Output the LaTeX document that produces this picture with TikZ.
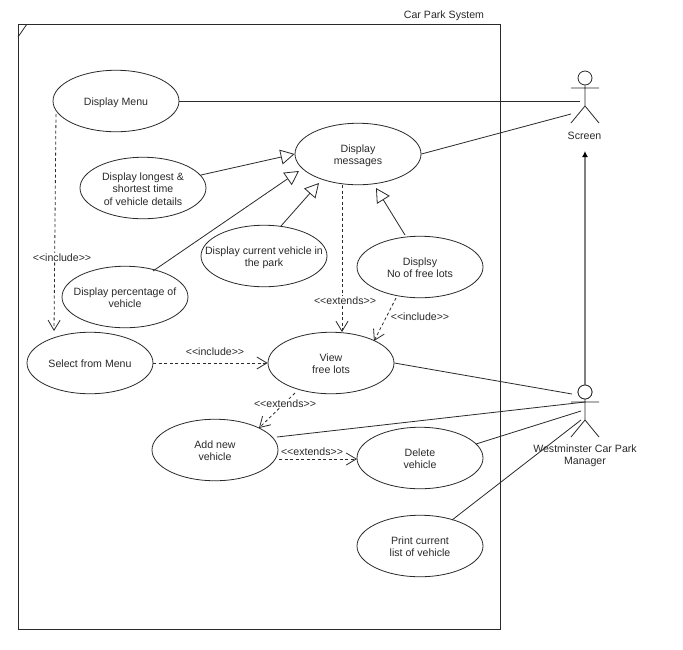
\documentclass[tikz,border=0pt]{standalone}
\usepackage{fontspec}
\setmainfont{Liberation Sans}
\usetikzlibrary{arrows.meta,shapes.geometric}
\definecolor{ink}{HTML}{2A2A2A}
\newcommand{\uctext}[1]{\makebox[0pt]{\raisebox{-5pt}[0pt][0pt]{\begin{tabular}{@{}c@{}}#1\end{tabular}}}}
\tikzset{
  usecase/.style={draw=ink,ellipse,minimum width=126pt,minimum height=61.5pt,inner sep=0pt,fill=white,line width=.8pt},
  lab/.style={inner sep=.6pt,text=ink,align=center},
  lbl/.style={lab,fill=white},
  assoc/.style={draw=ink,line width=.8pt},
  gen/.style={assoc,-{Triangle[open,length=14pt,width=15pt,fill=white]}},
  dep/.style={draw=ink,line width=.8pt,dash pattern=on 3pt off 2.5pt,-{Straight Barb[length=10pt,width=12pt,line width=.8pt]}},
  stick/.style={draw=ink,line width=.8pt},
}
\begin{document}
\begin{tikzpicture}[x=1pt,y=-1pt,every node/.append style={font=\fontsize{10.6}{12.4}\selectfont,text=ink}]
\useasboundingbox (0,0) rectangle (683,649);
\fill[white] (0,0) rectangle (683,649);
% system frame
\draw[draw=ink,line width=.8pt] (18,24) rectangle (500,629);
\draw[draw=ink,line width=.8pt] (18,37) -- (27,24);
\node[lab] (title) at (444,15.5) {Car Park System};
% free ends
\coordinate (sArm) at (580,101);
\coordinate (sHip) at (571,114);
\coordinate (mA) at (572,394);
\coordinate (mB) at (585,402);
\coordinate (mC) at (581,411);
\coordinate (mD) at (581,420);
\coordinate (msgP) at (299,171);
\coordinate (msgC) at (319,183);
\coordinate (msgD) at (376,188);
\coordinate (dmStart) at (56,114);
\coordinate (selEnd) at (54,331);
\coordinate (dlStart) at (396,298);
\coordinate (vEnd) at (374,341);
\coordinate (vStart) at (295,393);
\coordinate (aEnd) at (259,428);
\coordinate (msgStart) at (342,185);
\coordinate (vTop) at (342,332);
\coordinate (pS) at (153,271);
\coordinate (cS) at (281,226);
\coordinate (dS) at (405,235);
\coordinate (lS) at (201,175);
\coordinate (aS) at (277,437);
\coordinate (aR) at (279,459);
\coordinate (dR) at (357,459);
\coordinate (delS) at (476,444);
\coordinate (prS) at (452,520);
\coordinate (mTop) at (585,386);
\coordinate (sBot) at (585,151);
% use cases
\node[usecase] (menu) at (116,101) {\uctext{Display Menu}};
\node[usecase] (msg) at (358,154) {\uctext{Display\\messages}};
\node[usecase] (longest) at (143,188) {\uctext{Display longest \&\\shortest time\\of vehicle details}};
\node[usecase] (current) at (264,256) {\uctext{Display current vehicle in\\the park}};
\node[usecase] (percent) at (125,297) {\uctext{Display percentage of\\vehicle}};
\node[usecase] (free) at (420,267) {\uctext{Displsy\\No of free lots}};
\node[usecase] (select) at (90,363) {\uctext{Select from Menu}};
\node[usecase] (view) at (331,363) {\uctext{View\\free lots}};
\node[usecase] (add) at (215,450) {\uctext{Add new\\vehicle}};
\node[usecase] (del) at (420,458) {\uctext{Delete\\vehicle}};
\node[usecase] (print) at (420,546) {\uctext{Print current\\list of vehicle}};
% actors
\node[circle,draw=ink,line width=.8pt,minimum size=14pt,inner sep=0pt] (sHead) at (585,78) {};
\coordinate (sNeck) at (585,106);
\draw[stick] (sHead.south) -- (sNeck) -- (571,123) (sNeck) -- (599,123) (571,88) -- (599,88);
\node[lab] (sLab) at (584.5,135.5) {Screen};
\node[circle,draw=ink,line width=.8pt,minimum size=14pt,inner sep=0pt] (mHead) at (585,392) {};
\coordinate (mNeck) at (585,420);
% connectors
\draw[draw=black!50,line width=1.5pt,-{Latex[black,length=6pt,width=6pt]}] (mTop) -- (sBot);
\node[circle,draw=ink,fill=white,line width=.8pt,minimum size=14pt,inner sep=0pt] (mHeadTop) at (mHead) {};
\draw[stick] (mHead.south) -- (mNeck) -- (571,437) (mNeck) -- (599,437) (571,402) -- (599,402);
\node[lab] (mLab) at (585,456) {Westminster Car Park\\Manager};
\draw[assoc] (menu.east) -- (sArm);
\draw[assoc] (msg.east) -- (sHip);
\draw[assoc] (view.east) -- (mA);
\draw[assoc] (aS) -- (mB);
\draw[assoc] (delS) -- (mC);
\draw[assoc] (prS) -- (mD);
\draw[gen] (lS) -- (msg.west);
\draw[gen] (pS) -- (msgP);
\draw[gen] (cS) -- (msgC);
\draw[gen] (dS) -- (msgD);
\draw[dep] (dmStart) -- (selEnd);
\draw[dep] (msgStart) -- (vTop);
\draw[dep] (dlStart) -- (vEnd);
\draw[dep] (select.east) -- (view.west);
\draw[dep] (vStart) -- (aEnd);
\draw[dep] (aR) -- (dR);
% labels
\node[lbl] (l1) at (62,257.5) {<{}<include>{}>};
\node[lbl] (l2) at (345,300.5) {<{}<extends>{}>};
\node[lbl] (l3) at (420,316.5) {<{}<include>{}>};
\node[lab] (l4) at (215,351.5) {<{}<include>{}>};
\node[lbl] (l5) at (285,403.5) {<{}<extends>{}>};
\node[lab] (l6) at (312,452) {<{}<extends>{}>};
\end{tikzpicture}
\end{document}
